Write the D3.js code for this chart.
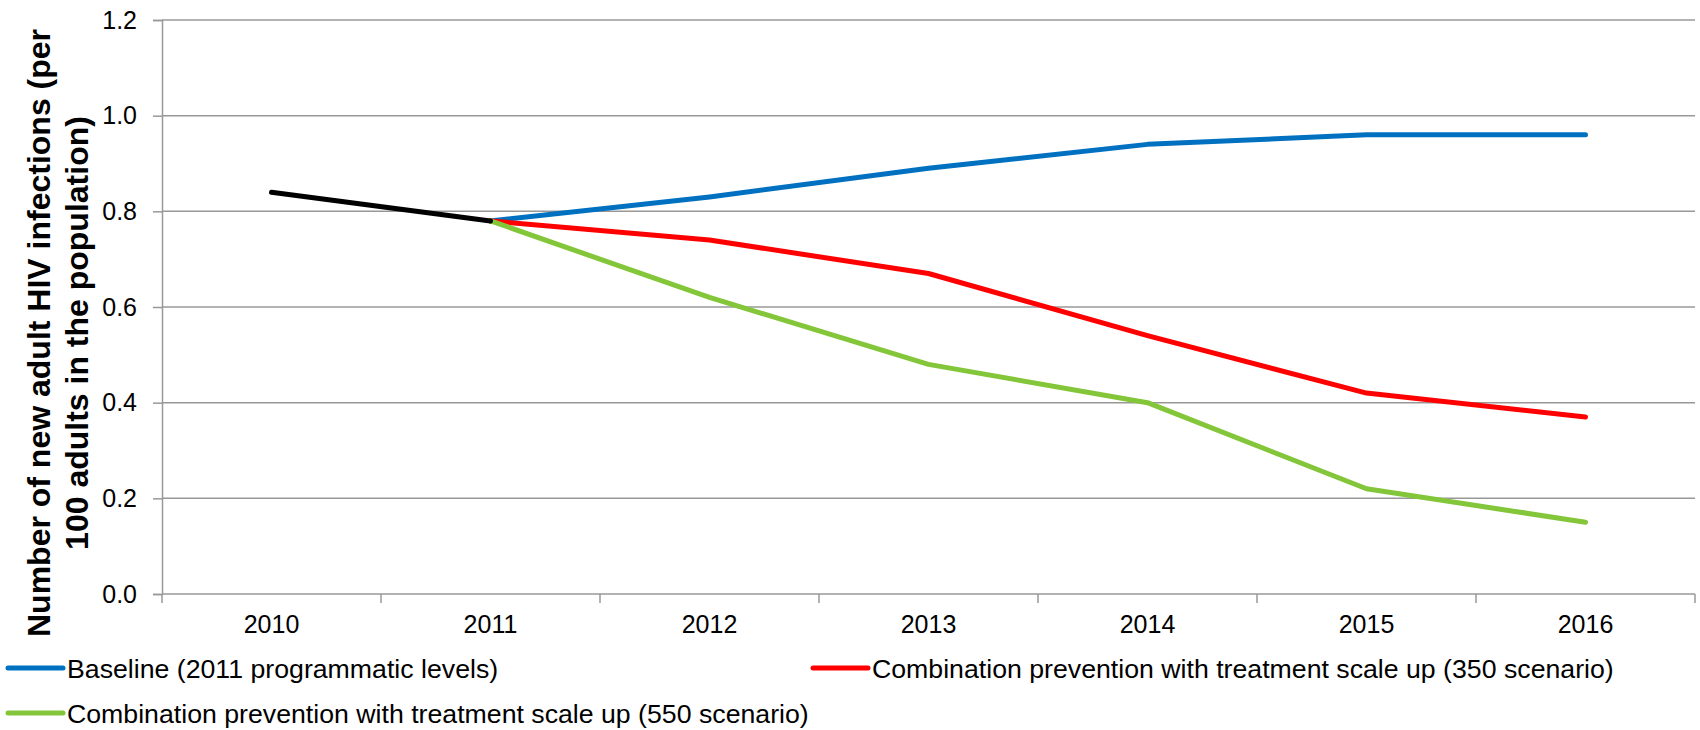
<!DOCTYPE html>
<html>
<head>
<meta charset="utf-8">
<script src="https://cdn.jsdelivr.net/npm/d3@7/dist/d3.min.js"></script>
<style>
  html, body { margin: 0; padding: 0; background: #ffffff; }
  svg { display: block; font-family: "Liberation Sans", Arial, sans-serif; }
</style>
</head>
<body>
<svg id="chart" width="1700" height="730"></svg>
<script>
// Years on the category axis
const years = ["2010", "2011", "2012", "2013", "2014", "2015", "2016"];

// Observed trend up to 2011 (per 100 adults)
const historical = [0.84, 0.78, null, null, null, null, null];

// Projected scenarios from 2011 onward
const baseline = [null, 0.78, 0.83, 0.89, 0.94, 0.96, 0.96];
const scenario350 = [null, 0.78, 0.74, 0.67, 0.54, 0.42, 0.37];
const scenario550 = [null, 0.78, 0.62, 0.48, 0.40, 0.22, 0.15];

// Y axis tick values and their labels
const yTicks = [0, 0.2, 0.4, 0.6, 0.8, 1.0, 1.2];

const series = [
  { name: "Baseline (2011 programmatic levels)", values: baseline, color: "#0070C0" },
  { name: "Combination prevention with treatment scale up (350 scenario)", values: scenario350, color: "#FF0000" },
  { name: "Combination prevention with treatment scale up (550 scenario)", values: scenario550, color: "#84C63A" },
  { name: null, values: historical, color: "#000000" }
];

const svg = d3.select("#chart");
const plotLeft = 162, plotRight = 1695, plotTop = 20, plotBottom = 594;

const x = d3.scaleBand().domain(years).range([plotLeft, plotRight]);
const y = d3.scaleLinear().domain([0, 1.2]).range([plotBottom, plotTop]);
const gridColor = "#989898";

// Horizontal gridlines
svg.append("g")
  .selectAll("line")
  .data(yTicks.filter(d => d > 0))
  .join("line")
  .attr("x1", plotLeft).attr("x2", plotRight)
  .attr("y1", d => y(d)).attr("y2", d => y(d))
  .attr("stroke", gridColor).attr("stroke-width", 1.5);

// Y axis
const yAxis = d3.axisLeft(y).tickValues(yTicks).tickFormat(d3.format(".1f")).tickSize(9).tickPadding(16);
const gy = svg.append("g").attr("transform", `translate(${plotLeft},0)`).call(yAxis);
gy.select(".domain").attr("stroke", gridColor).attr("stroke-width", 1.5);
gy.selectAll(".tick line").attr("stroke", gridColor).attr("stroke-width", 1.5);
gy.selectAll(".tick text")
  .attr("font-size", 25).attr("fill", "#000")
  .attr("font-family", "Liberation Sans, Arial, sans-serif");

// X axis: ticks sit on category boundaries, labels at category centres
const gx = svg.append("g").attr("transform", `translate(0,${plotBottom})`);
gx.append("line").attr("x1", plotLeft).attr("x2", plotRight).attr("y1", 0).attr("y2", 0)
  .attr("stroke", gridColor).attr("stroke-width", 1.5);
const bounds = years.map(d => x(d)).concat([x(years[years.length - 1]) + x.bandwidth()]);
gx.selectAll("line.tk").data(bounds).join("line").attr("class", "tk")
  .attr("x1", d => d).attr("x2", d => d).attr("y1", 0).attr("y2", 9)
  .attr("stroke", gridColor).attr("stroke-width", 1.5);
gx.selectAll("text").data(years).join("text")
  .attr("x", d => x(d) + x.bandwidth() / 2)
  .attr("y", 39)
  .attr("text-anchor", "middle")
  .attr("font-size", 25).attr("fill", "#000")
  .text(d => d);

// Lines
const line = d3.line()
  .defined(d => d.v != null)
  .x(d => x(d.year) + x.bandwidth() / 2)
  .y(d => y(d.v));

svg.append("g").selectAll("path")
  .data(series)
  .join("path")
  .attr("d", s => line(years.map((yr, i) => ({ year: yr, v: s.values[i] }))))
  .attr("fill", "none")
  .attr("stroke", s => s.color)
  .attr("stroke-width", 5)
  .attr("stroke-linejoin", "round")
  .attr("stroke-linecap", "round");

// Y axis title, two lines rotated
const title = svg.append("text")
  .attr("transform", "translate(0,333) rotate(-90)")
  .attr("text-anchor", "middle")
  .attr("font-size", 32).attr("font-weight", "bold").attr("fill", "#000");
title.append("tspan").attr("x", 0).attr("y", 50).text("Number of new adult HIV infections (per");
title.append("tspan").attr("x", 0).attr("y", 88).text("100 adults in the population)");

// Legend
const legendItems = [
  { s: series[0], lx: 8, ly: 668 },
  { s: series[1], lx: 813, ly: 668 },
  { s: series[2], lx: 8, ly: 713 }
];
const lg = svg.append("g").selectAll("g").data(legendItems).join("g")
  .attr("transform", d => `translate(${d.lx},${d.ly})`);
lg.append("line")
  .attr("x1", 0).attr("x2", 55).attr("y1", 0).attr("y2", 0)
  .attr("stroke", d => d.s.color).attr("stroke-width", 5).attr("stroke-linecap", "round");
lg.append("text")
  .attr("x", 59).attr("y", 9.5)
  .attr("font-size", 26.7).attr("fill", "#000")
  .text(d => d.s.name);
</script>
</body>
</html>
